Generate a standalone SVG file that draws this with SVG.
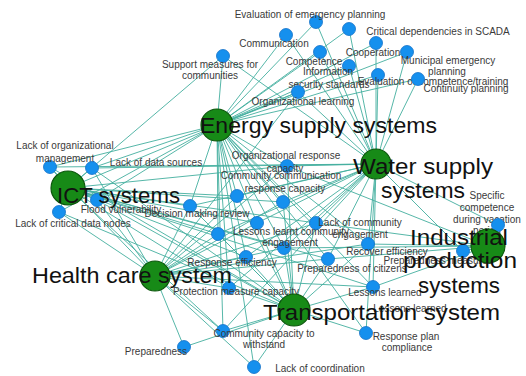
<svg xmlns="http://www.w3.org/2000/svg" width="526" height="376" viewBox="0 0 526 376">
<style>
.e line{stroke:#45b0a0;stroke-width:1;opacity:.9}
.n circle{fill:#1590ee;stroke:#1170c8;stroke-width:.8}
.h circle{fill:#178a17;stroke:#0c560c;stroke-width:1.2}
.s{font-family:"Liberation Sans",Arial,sans-serif;font-size:10px;fill:#3a3a3a;text-anchor:middle}
.b{font-family:"Liberation Sans",Arial,sans-serif;font-size:22px;fill:#111}
</style>
<rect width="526" height="376" fill="#fff"/>
<g id="connectors" class="e">
<line x1="217" y1="125" x2="316" y2="22"/><line x1="217" y1="125" x2="286" y2="35"/><line x1="217" y1="125" x2="349" y2="29"/><line x1="217" y1="125" x2="223" y2="56"/><line x1="217" y1="125" x2="376" y2="43"/><line x1="217" y1="125" x2="320" y2="52"/><line x1="217" y1="125" x2="407" y2="52"/><line x1="217" y1="125" x2="349" y2="66"/><line x1="217" y1="125" x2="378" y2="75"/><line x1="217" y1="125" x2="418" y2="79"/><line x1="217" y1="125" x2="298" y2="92"/><line x1="217" y1="125" x2="50" y2="167"/><line x1="217" y1="125" x2="92" y2="168"/><line x1="217" y1="125" x2="97" y2="200"/><line x1="217" y1="125" x2="59" y2="212"/><line x1="217" y1="125" x2="190" y2="206"/><line x1="217" y1="125" x2="287" y2="166"/><line x1="217" y1="125" x2="283" y2="202"/><line x1="217" y1="125" x2="237" y2="196"/><line x1="217" y1="125" x2="284" y2="248"/><line x1="217" y1="125" x2="257" y2="223"/><line x1="217" y1="125" x2="316" y2="223"/><line x1="217" y1="125" x2="368" y2="244"/><line x1="217" y1="125" x2="328" y2="259"/><line x1="217" y1="125" x2="218" y2="234"/><line x1="217" y1="125" x2="246" y2="257"/><line x1="217" y1="125" x2="229" y2="288"/><line x1="217" y1="125" x2="373" y2="287"/><line x1="217" y1="125" x2="366" y2="333"/><line x1="217" y1="125" x2="223" y2="331"/><line x1="217" y1="125" x2="254" y2="367"/>
<line x1="376" y1="164" x2="316" y2="22"/><line x1="376" y1="164" x2="286" y2="35"/><line x1="376" y1="164" x2="349" y2="29"/><line x1="376" y1="164" x2="223" y2="56"/><line x1="376" y1="164" x2="376" y2="43"/><line x1="376" y1="164" x2="320" y2="52"/><line x1="376" y1="164" x2="407" y2="52"/><line x1="376" y1="164" x2="349" y2="66"/><line x1="376" y1="164" x2="378" y2="75"/><line x1="376" y1="164" x2="418" y2="79"/><line x1="376" y1="164" x2="298" y2="92"/><line x1="376" y1="164" x2="50" y2="167"/><line x1="376" y1="164" x2="92" y2="168"/><line x1="376" y1="164" x2="190" y2="206"/><line x1="376" y1="164" x2="287" y2="166"/><line x1="376" y1="164" x2="283" y2="202"/><line x1="376" y1="164" x2="237" y2="196"/><line x1="376" y1="164" x2="284" y2="248"/><line x1="376" y1="164" x2="257" y2="223"/><line x1="376" y1="164" x2="316" y2="223"/><line x1="376" y1="164" x2="368" y2="244"/><line x1="376" y1="164" x2="328" y2="259"/><line x1="376" y1="164" x2="218" y2="234"/><line x1="376" y1="164" x2="246" y2="257"/><line x1="376" y1="164" x2="229" y2="288"/><line x1="376" y1="164" x2="373" y2="287"/><line x1="376" y1="164" x2="463" y2="251"/><line x1="376" y1="164" x2="498" y2="225"/><line x1="376" y1="164" x2="366" y2="333"/><line x1="376" y1="164" x2="223" y2="331"/>
<line x1="68" y1="188" x2="223" y2="56"/><line x1="68" y1="188" x2="298" y2="92"/><line x1="68" y1="188" x2="50" y2="167"/><line x1="68" y1="188" x2="92" y2="168"/><line x1="68" y1="188" x2="97" y2="200"/><line x1="68" y1="188" x2="59" y2="212"/><line x1="68" y1="188" x2="190" y2="206"/><line x1="68" y1="188" x2="287" y2="166"/><line x1="68" y1="188" x2="283" y2="202"/><line x1="68" y1="188" x2="237" y2="196"/><line x1="68" y1="188" x2="284" y2="248"/><line x1="68" y1="188" x2="257" y2="223"/><line x1="68" y1="188" x2="316" y2="223"/><line x1="68" y1="188" x2="328" y2="259"/><line x1="68" y1="188" x2="218" y2="234"/><line x1="68" y1="188" x2="246" y2="257"/><line x1="68" y1="188" x2="229" y2="288"/><line x1="68" y1="188" x2="373" y2="287"/><line x1="68" y1="188" x2="223" y2="331"/>
<line x1="155" y1="276" x2="298" y2="92"/><line x1="155" y1="276" x2="50" y2="167"/><line x1="155" y1="276" x2="92" y2="168"/><line x1="155" y1="276" x2="97" y2="200"/><line x1="155" y1="276" x2="59" y2="212"/><line x1="155" y1="276" x2="190" y2="206"/><line x1="155" y1="276" x2="287" y2="166"/><line x1="155" y1="276" x2="283" y2="202"/><line x1="155" y1="276" x2="237" y2="196"/><line x1="155" y1="276" x2="284" y2="248"/><line x1="155" y1="276" x2="257" y2="223"/><line x1="155" y1="276" x2="316" y2="223"/><line x1="155" y1="276" x2="368" y2="244"/><line x1="155" y1="276" x2="328" y2="259"/><line x1="155" y1="276" x2="218" y2="234"/><line x1="155" y1="276" x2="246" y2="257"/><line x1="155" y1="276" x2="229" y2="288"/><line x1="155" y1="276" x2="373" y2="287"/><line x1="155" y1="276" x2="223" y2="331"/><line x1="155" y1="276" x2="184" y2="347"/><line x1="155" y1="276" x2="254" y2="367"/>
<line x1="294" y1="310" x2="50" y2="167"/><line x1="294" y1="310" x2="92" y2="168"/><line x1="294" y1="310" x2="97" y2="200"/><line x1="294" y1="310" x2="59" y2="212"/><line x1="294" y1="310" x2="190" y2="206"/><line x1="294" y1="310" x2="287" y2="166"/><line x1="294" y1="310" x2="283" y2="202"/><line x1="294" y1="310" x2="237" y2="196"/><line x1="294" y1="310" x2="284" y2="248"/><line x1="294" y1="310" x2="257" y2="223"/><line x1="294" y1="310" x2="316" y2="223"/><line x1="294" y1="310" x2="368" y2="244"/><line x1="294" y1="310" x2="328" y2="259"/><line x1="294" y1="310" x2="218" y2="234"/><line x1="294" y1="310" x2="246" y2="257"/><line x1="294" y1="310" x2="229" y2="288"/><line x1="294" y1="310" x2="373" y2="287"/><line x1="294" y1="310" x2="366" y2="333"/><line x1="294" y1="310" x2="223" y2="331"/><line x1="294" y1="310" x2="184" y2="347"/><line x1="294" y1="310" x2="254" y2="367"/>
<line x1="488" y1="246" x2="287" y2="166"/><line x1="488" y1="246" x2="316" y2="223"/><line x1="488" y1="246" x2="368" y2="244"/><line x1="488" y1="246" x2="328" y2="259"/><line x1="488" y1="246" x2="373" y2="287"/><line x1="488" y1="246" x2="463" y2="251"/><line x1="488" y1="246" x2="498" y2="225"/><line x1="488" y1="246" x2="284" y2="248"/>
</g>
<g id="n-eval-emergency" class="n"><circle cx="316" cy="22" r="6.5"/><text class="s" x="310" y="18">Evaluation of emergency planning</text></g>
<g id="n-communication" class="n"><circle cx="286" cy="35" r="6.5"/><text class="s" x="274" y="47">Communication</text></g>
<g id="n-critical-scada" class="n"><circle cx="349" cy="29" r="6.5"/><text class="s" x="438" y="35">Critical dependencies in SCADA</text></g>
<g id="n-support" class="n"><circle cx="223" cy="56" r="6.5"/><text class="s" x="210" y="68">Support measures for</text><text class="s" x="210" y="79">communities</text></g>
<g id="n-cooperation" class="n"><circle cx="376" cy="43" r="6.5"/><text class="s" x="373" y="56">Cooperation</text></g>
<g id="n-competence" class="n"><circle cx="320" cy="52" r="6.5"/><text class="s" x="314" y="65">Competence</text></g>
<g id="n-municipal" class="n"><circle cx="407" cy="52" r="6.5"/><text class="s" x="448" y="64">Municipal emergency</text><text class="s" x="447" y="75">planning</text></g>
<g id="n-info-security" class="n"><circle cx="349" cy="66" r="6.5"/><text class="s" x="328" y="75">Information</text><text class="s" x="329" y="88">security standards</text></g>
<g id="n-eval-competence" class="n"><circle cx="378" cy="75" r="6.5"/><text class="s" x="433" y="85">Evaluation of competence/training</text></g>
<g id="n-continuity" class="n"><circle cx="418" cy="79" r="6.5"/><text class="s" x="466" y="92">Continuity planning</text></g>
<g id="n-org-learning" class="n"><circle cx="298" cy="92" r="6.5"/><text class="s" x="303" y="105">Organizational learning</text></g>
<g id="n-lack-org-mgmt" class="n"><circle cx="50" cy="167" r="6.5"/><text class="s" x="65" y="149">Lack of organizational</text><text class="s" x="65" y="162">management</text></g>
<g id="n-lack-data-sources" class="n"><circle cx="92" cy="168" r="6.5"/><text class="s" x="156" y="166">Lack of data sources</text></g>
<g id="n-flood" class="n"><circle cx="97" cy="200" r="6.5"/><text class="s" x="121" y="213">Flood vulnerability</text></g>
<g id="n-lack-critical-data" class="n"><circle cx="59" cy="212" r="6.5"/><text class="s" x="73" y="227">Lack of critical data nodes</text></g>
<g id="n-decision" class="n"><circle cx="190" cy="206" r="6.5"/><text class="s" x="197" y="217">Decision making review</text></g>
<g id="n-org-response" class="n"><circle cx="287" cy="166" r="6.5"/><text class="s" x="286" y="159">Organizational response</text><text class="s" x="285" y="172">capacity</text></g>
<g id="n-community-comm" class="n"><circle cx="283" cy="202" r="6.5"/><text class="s" x="281" y="179">Community communication</text><text class="s" x="285" y="192">response capacity</text></g>
<g id="n-a" class="n"><circle cx="237" cy="196" r="6.5"/></g>
<g id="n-b" class="n"><circle cx="257" cy="223" r="6.5"/></g>
<g id="n-c" class="n"><circle cx="218" cy="234" r="6.5"/></g>
<g id="n-lessons-community" class="n"><circle cx="284" cy="248" r="6.5"/><text class="s" x="291" y="235">Lessons learnt community</text><text class="s" x="290" y="246">engagement</text></g>
<g id="n-lack-community" class="n"><circle cx="316" cy="223" r="6.5"/><text class="s" x="360" y="226">Lack of community</text><text class="s" x="360" y="238">engagement</text></g>
<g id="n-recover" class="n"><circle cx="368" cy="244" r="6.5"/><text class="s" x="387" y="255">Recover efficiency</text></g>
<g id="n-prep-citizens" class="n"><circle cx="328" cy="259" r="6.5"/><text class="s" x="352" y="272">Preparedness of citizens</text></g>
<g id="n-response-eff" class="n"><circle cx="246" cy="257" r="6.5"/><text class="s" x="232" y="266">Response efficiency</text></g>
<g id="n-protection" class="n"><circle cx="229" cy="288" r="6.5"/><text class="s" x="236" y="295">Protection measure capacity</text></g>
<g id="n-lessons-1" class="n"><circle cx="373" cy="287" r="6.5"/><text class="s" x="385" y="296">Lessons learned</text></g>
<g id="n-lessons-2" class="n"><text class="s" x="410" y="312">Lessons learned</text></g>
<g id="n-prep-measures" class="n"><circle cx="463" cy="251" r="6.5"/><text class="s" x="438" y="264">Preparedness measures</text></g>
<g id="n-specific" class="n"><text class="s" x="487" y="199">Specific</text><text class="s" x="487" y="211">competence</text><text class="s" x="487" y="222.5">during vacation</text><text class="s" x="487" y="234">period</text><circle cx="498" cy="225" r="6.5"/></g>
<g id="n-response-plan" class="n"><circle cx="366" cy="333" r="6.5"/><text class="s" x="406" y="340">Response plan</text><text class="s" x="407" y="351">compliance</text></g>
<g id="n-community-capacity" class="n"><circle cx="223" cy="331" r="6.5"/><text class="s" x="264" y="337">Community capacity to</text><text class="s" x="264" y="348">withstand</text></g>
<g id="n-preparedness" class="n"><circle cx="184" cy="347" r="6.5"/><text class="s" x="156" y="355">Preparedness</text></g>
<g id="n-lack-coordination" class="n"><circle cx="254" cy="367" r="6.5"/><text class="s" x="320" y="372">Lack of coordination</text></g>
<g id="h-energy" class="h"><circle cx="217" cy="125" r="16"/><text class="b" x="200" y="133" textLength="237" lengthAdjust="spacingAndGlyphs">Energy supply systems</text></g>
<g id="h-water" class="h"><circle cx="376" cy="164" r="15"/><text class="b" x="353" y="174" textLength="140" lengthAdjust="spacingAndGlyphs">Water supply</text><text class="b" x="381" y="198" textLength="84" lengthAdjust="spacingAndGlyphs">systems</text></g>
<g id="h-ict" class="h"><circle cx="68" cy="188" r="17"/><text class="b" x="57" y="203" textLength="123" lengthAdjust="spacingAndGlyphs">ICT systems</text></g>
<g id="h-health" class="h"><circle cx="155" cy="276" r="15"/><text class="b" x="32" y="283" textLength="200" lengthAdjust="spacingAndGlyphs">Health care system</text></g>
<g id="h-transport" class="h"><circle cx="294" cy="310" r="16"/><text class="b" x="263" y="320" textLength="237" lengthAdjust="spacingAndGlyphs">Transportation system</text></g>
<g id="h-industrial" class="h"><circle cx="488" cy="246" r="17"/><text class="b" x="410" y="245" textLength="98" lengthAdjust="spacingAndGlyphs">Industrial</text><text class="b" x="403" y="268" textLength="114" lengthAdjust="spacingAndGlyphs">production</text><text class="b" x="418" y="293" textLength="82" lengthAdjust="spacingAndGlyphs">systems</text></g>
</svg>
